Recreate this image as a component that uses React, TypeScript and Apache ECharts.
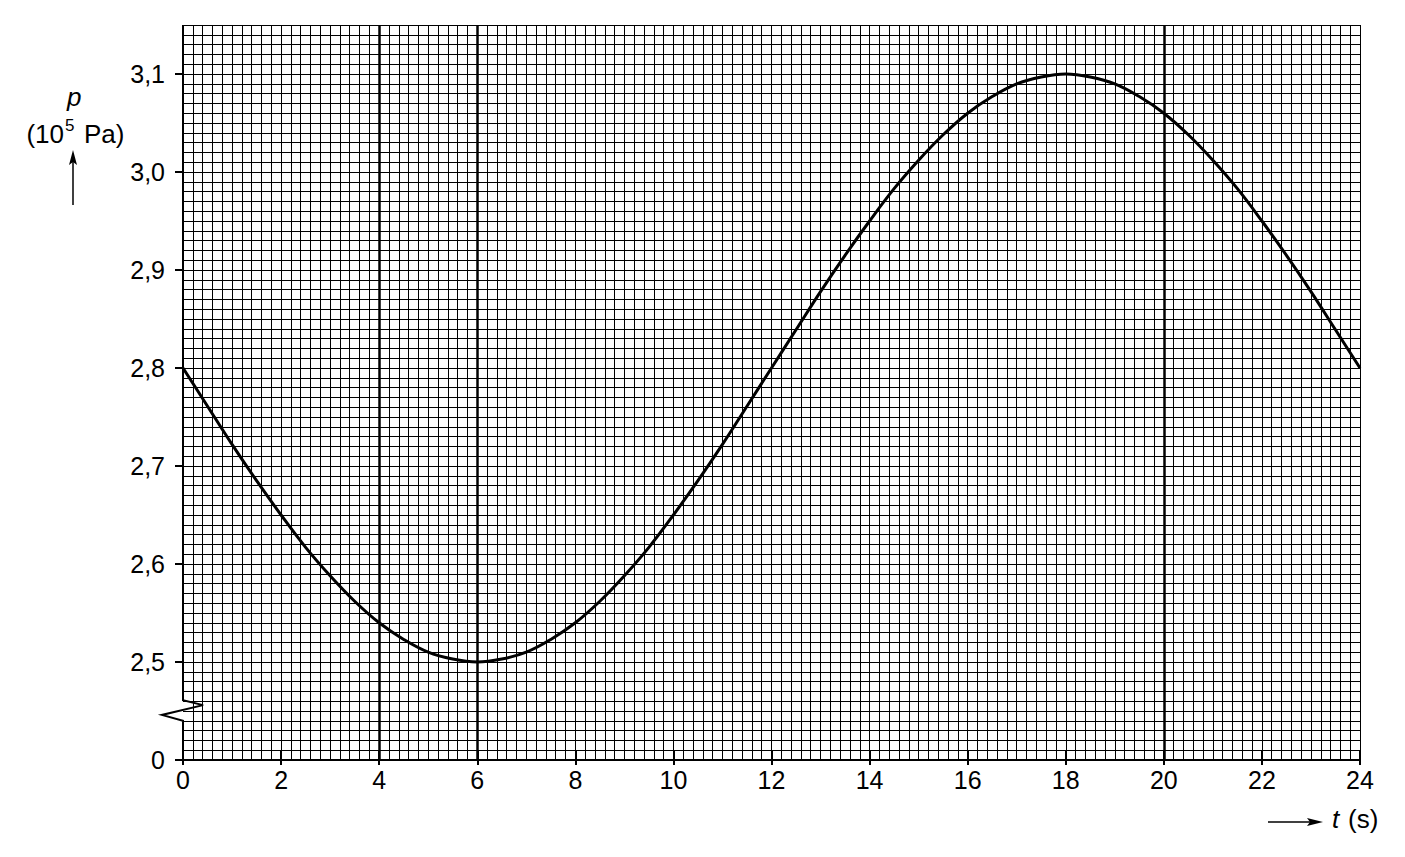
import React, { useEffect, useRef } from "react";
import * as echarts from "echarts";

// ---- data ----
const timeS = [
  0, 0.5, 1, 1.5, 2, 2.5, 3, 3.5, 4, 4.5, 5, 5.5, 6, 6.5, 7, 7.5, 8, 8.5, 9, 9.5, 10, 10.5, 11, 11.5,
  12, 12.5, 13, 13.5, 14, 14.5, 15, 15.5, 16, 16.5, 17, 17.5, 18, 18.5, 19, 19.5, 20, 20.5, 21, 21.5,
  22, 22.5, 23, 23.5, 24,
];
const pressure = [
  2.8, 2.761, 2.722, 2.685, 2.65, 2.617, 2.588, 2.562, 2.54, 2.523, 2.51, 2.503, 2.5, 2.503, 2.51, 2.523,
  2.54, 2.562, 2.588, 2.617, 2.65, 2.685, 2.722, 2.761, 2.8, 2.839, 2.878, 2.915, 2.95, 2.983, 3.012,
  3.038, 3.06, 3.077, 3.09, 3.097, 3.1, 3.097, 3.09, 3.077, 3.06, 3.038, 3.012, 2.983, 2.95, 2.915,
  2.878, 2.839, 2.8,
];
const yTickValues = [2.4, 2.5, 2.6, 2.7, 2.8, 2.9, 3.0, 3.1];
const yTickLabels = ["0", "2,5", "2,6", "2,7", "2,8", "2,9", "3,0", "3,1"];
const xTickValues = [0, 2, 4, 6, 8, 10, 12, 14, 16, 18, 20, 22, 24];
const heavyGridT = [4, 6, 20];

const FONT = '"Liberation Sans", Arial, Helvetica, sans-serif';

export default function App() {
  const ref = useRef<HTMLDivElement>(null);

  useEffect(() => {
    if (!ref.current) return;
    const chart = echarts.init(ref.current, null, { renderer: "svg" });

    const yLabel = (v: number) => {
      const i = yTickValues.findIndex((t) => Math.abs(t - v) < 1e-6);
      return i >= 0 ? yTickLabels[i] : "";
    };
    const xLabel = (v: number) => {
      const i = xTickValues.findIndex((t) => Math.abs(t - v) < 1e-6);
      return i >= 0 ? String(xTickValues[i]) : "";
    };

    const option: any = {
      animation: false,
      backgroundColor: "#ffffff",
      grid: [
        { left: 183, right: 45, top: 25, bottom: 97 },
        { left: 183, right: 45, top: 74, bottom: 97 },
      ],
      xAxis: [
        {
          type: "value",
          gridIndex: 0,
          position: "bottom",
          min: 0,
          max: 24,
          interval: 0.2,
          axisLine: { show: true, onZero: false, lineStyle: { color: "#000", width: 2 } },
          axisTick: { show: false },
          axisLabel: { show: false },
          splitLine: { show: true, showMinLine: false, lineStyle: { color: "#000", width: 1 } },
        },
        {
          type: "value",
          gridIndex: 1,
          position: "bottom",
          min: 0,
          max: 24,
          interval: 2,
          axisLine: { show: false, onZero: false },
          axisTick: { show: true, inside: true, length: 9, lineStyle: { color: "#000", width: 2 } },
          axisLabel: { show: true, margin: 7, fontSize: 25, color: "#000", fontFamily: FONT, formatter: xLabel },
          splitLine: { show: false },
        },
        {
          type: "value",
          gridIndex: 1,
          position: "bottom",
          offset: 0,
          min: 0,
          max: 24,
          interval: 2,
          axisLine: { show: false, onZero: false },
          axisTick: { show: true, inside: false, length: 5, lineStyle: { color: "#000", width: 2 } },
          axisLabel: { show: false },
          splitLine: { show: false },
        },
      ],
      yAxis: [
        {
          type: "value",
          gridIndex: 0,
          min: 2.4,
          max: 3.15,
          interval: 0.01,
          axisLine: { show: false },
          axisTick: { show: false },
          axisLabel: { show: false },
          splitLine: { show: true, lineStyle: { color: "#000", width: 1 } },
        },
        {
          type: "value",
          gridIndex: 1,
          min: 2.4,
          max: 3.1,
          interval: 0.1,
          axisLine: { show: false, onZero: false },
          axisTick: { show: true, inside: false, length: 8, lineStyle: { color: "#000", width: 2 } },
          axisLabel: { show: true, margin: 18, fontSize: 25, color: "#000", fontFamily: FONT, formatter: yLabel },
          splitLine: { show: false },
        },
      ],
      series: [
        {
          type: "line",
          xAxisIndex: 0,
          yAxisIndex: 0,
          data: timeS.map((t, i) => [t, pressure[i]]),
          smooth: 0.4,
          symbol: "none",
          showSymbol: false,
          lineStyle: { color: "#000", width: 3 },
          markLine: {
            silent: true,
            symbol: ["none", "none"],
            label: { show: false },
            lineStyle: { color: "#000", width: 2.5, type: "solid" },
            data: heavyGridT.map((t) => ({ xAxis: t })),
          },
          z: 5,
        },
      ],
    };

    chart.setOption(option);

    // y-axis line with the scale-break zigzag, placed through the axis scales
    const breakPath = [
      [0, 3.15],
      [0, 2.461],
      [0.41, 2.456],
      [-0.43, 2.446],
      [0, 2.44],
      [0, 2.4],
    ];
    const pts = breakPath.map((p) => chart.convertToPixel({ gridIndex: 0 } as any, p) as number[]);

    const txt = (text: string, x: number, y: number, size: number, italic = false, align = "left") => ({
      type: "text",
      x,
      y,
      style: {
        text,
        fill: "#000",
        fontSize: size,
        fontFamily: FONT,
        fontStyle: italic ? "italic" : "normal",
        align,
        textAlign: align,
        verticalAlign: "middle",
        textVerticalAlign: "middle",
      },
    });

    chart.setOption({
      graphic: [
        {
          type: "polyline",
          shape: { points: pts },
          style: { stroke: "#000", lineWidth: 2, fill: null },
          z: 10,
        },
        // y axis title
        txt("p", 67, 97, 26, true),
        txt("(10", 64, 134, 26, false, "right"),
        txt("5", 65, 125, 17),
        txt("Pa)", 84, 134, 26),
        { type: "line", shape: { x1: 73, y1: 205, x2: 73, y2: 160 }, style: { stroke: "#000", lineWidth: 1.5 } },
        { type: "polygon", shape: { points: [[73, 150], [69, 165], [73, 162], [77, 165]] }, style: { fill: "#000" } },
        // x axis title
        { type: "line", shape: { x1: 1268, y1: 822, x2: 1312, y2: 822 }, style: { stroke: "#000", lineWidth: 1.5 } },
        { type: "polygon", shape: { points: [[1323, 822], [1307, 818], [1310, 822], [1307, 826]] }, style: { fill: "#000" } },
        txt("t", 1332, 819, 26, true),
        txt("(s)", 1348, 819, 26),
      ],
    });

    return () => chart.dispose();
  }, []);

  return (
    <div
      ref={ref}
      style={{ position: "fixed", left: 0, top: 0, width: 1405, height: 857, background: "#fff" }}
    />
  );
}
